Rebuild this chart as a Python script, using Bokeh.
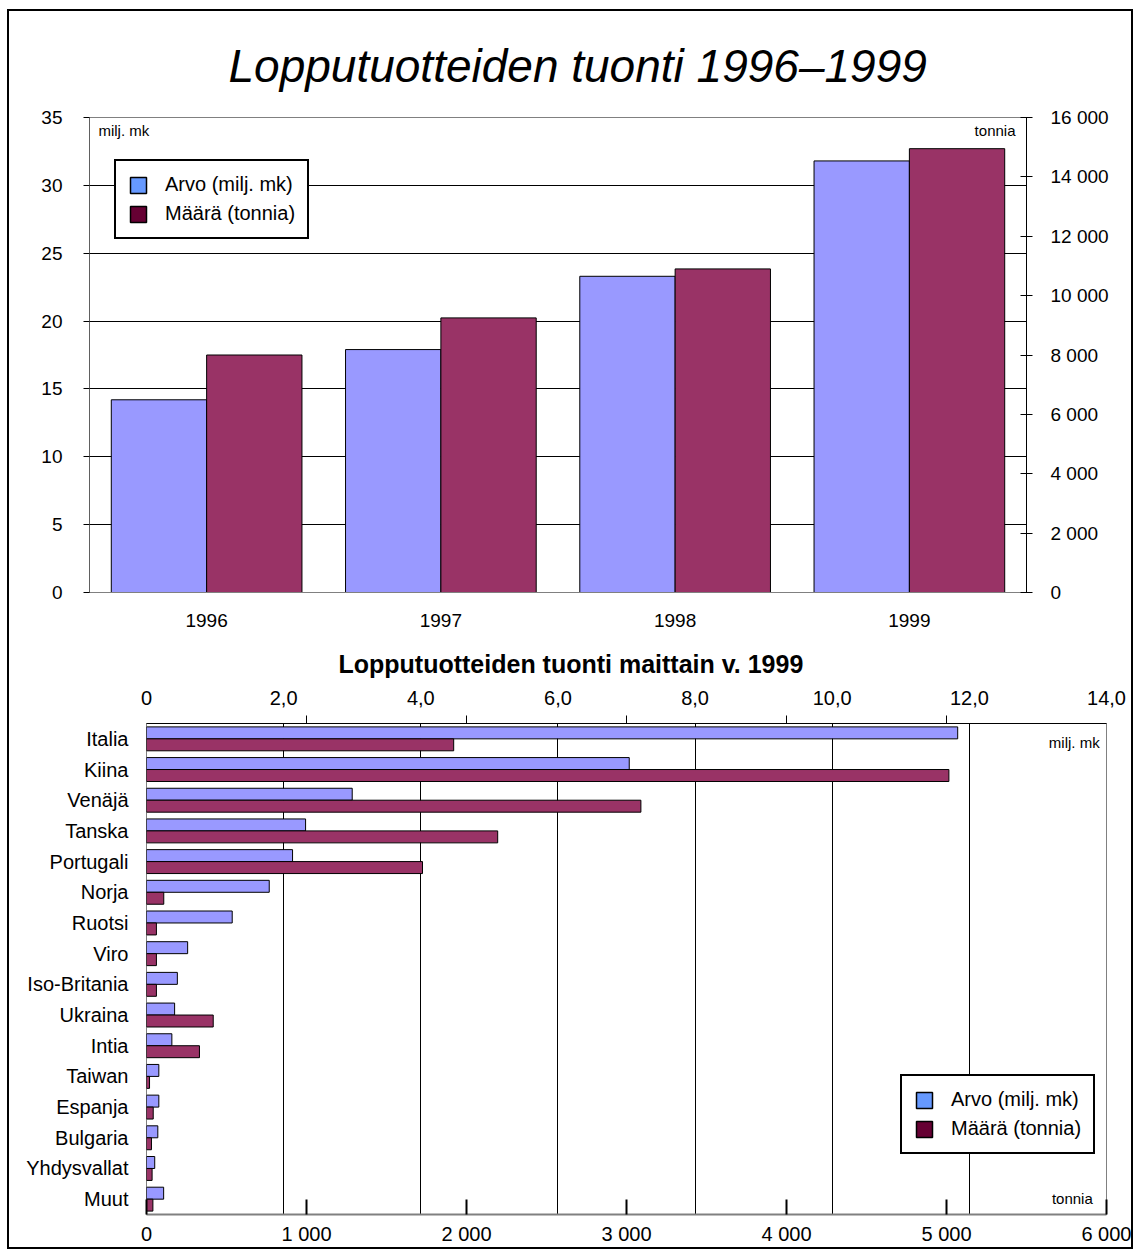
from bokeh.plotting import figure
from bokeh.models import (FactorRange, Range1d, LinearAxis, FixedTicker, Legend,
                          LegendItem, Label, ColumnDataSource)
from bokeh.transform import dodge
from bokeh.embed import file_html
from bokeh.resources import INLINE

# ---------------- data ----------------
YEARS = ["1996", "1997", "1998", "1999"]
ARVO_YEAR = [14.2, 17.9, 23.3, 31.8]            # milj. mk
MAARA_YEAR = [8000, 9250, 10900, 14950]         # tonnia

COUNTRIES = ["Italia", "Kiina", "Venäjä", "Tanska", "Portugali", "Norja", "Ruotsi",
             "Viro", "Iso-Britania", "Ukraina", "Intia", "Taiwan", "Espanja",
             "Bulgaria", "Yhdysvallat", "Muut"]
ARVO_1999 = [11.83, 7.04, 3.0, 2.32, 2.13, 1.79, 1.25, 0.60, 0.45, 0.41, 0.37,
             0.18, 0.18, 0.165, 0.12, 0.25]     # milj. mk
MAARA_1999 = [1920, 5015, 3090, 2195, 1725, 108, 62, 62, 62, 417, 331,
              19, 42, 31, 35, 40]               # tonnia

LEFT_TICKS = [0, 5, 10, 15, 20, 25, 30, 35]
RIGHT_TICKS = [0, 2000, 4000, 6000, 8000, 10000, 12000, 14000, 16000]
RIGHT_LABELS = ["0", "2 000", "4 000", "6 000", "8 000", "10 000", "12 000", "14 000", "16 000"]
MK_TICKS = [0, 2, 4, 6, 8, 10, 12, 14]
MK_LABELS = ["0", "2,0", "4,0", "6,0", "8,0", "10,0", "12,0", "14,0"]
T_TICKS = [0, 1000, 2000, 3000, 4000, 5000, 6000]
T_LABELS = ["0", "1 000", "2 000", "3 000", "4 000", "5 000", "6 000"]

TITLE1 = "Lopputuotteiden tuonti 1996–1999"
TITLE2 = "Lopputuotteiden tuonti maittain v. 1999"
LEG_ARVO = "Arvo (milj. mk)"
LEG_MAARA = "Määrä (tonnia)"

ARVO_COLOR = "#9999FF"
MAARA_COLOR = "#993366"
LEG_ARVO_COLOR = "#6699FF"
LEG_MAARA_COLOR = "#660033"
FONT = "Liberation Sans"
BORDER = "2px solid black"


def style_legend(leg):
    leg.border_line_color = "black"
    leg.border_line_alpha = 1
    leg.border_line_width = 2
    leg.background_fill_color = "white"
    leg.background_fill_alpha = 1
    leg.label_text_font = FONT
    leg.label_text_font_size = "20px"
    leg.label_text_color = "black"
    leg.glyph_width = 20
    leg.glyph_height = 20
    leg.label_height = 20
    leg.label_standoff = 17
    leg.spacing = 6
    leg.padding = 12
    leg.margin = 0


def style_axis_text(ax, size):
    ax.major_label_text_font = FONT
    ax.major_label_text_font_size = size
    ax.major_label_text_color = "black"


# ---------------- top chart ----------------
p1 = figure(x_range=FactorRange(*YEARS), y_range=Range1d(0, 35), width=1126, height=628,
            output_backend="svg", toolbar_location=None,
            min_border_left=80, min_border_right=109, min_border_top=105, min_border_bottom=47)
p1.extra_y_ranges = {"t": Range1d(0, 16000)}
p1.background_fill_color = "white"
p1.border_fill_color = "white"
p1.outline_line_color = "#808080"
p1.styles = {"margin-left": "7px", "margin-top": "9px",
             "border-top": BORDER, "border-left": BORDER, "border-right": BORDER}

src1 = ColumnDataSource(dict(year=YEARS, arvo=ARVO_YEAR, maara=MAARA_YEAR))
p1.vbar(x=dodge("year", -0.2035, range=p1.x_range), top="arvo", width=0.407, source=src1,
        fill_color=ARVO_COLOR, line_color="black", line_width=1)
p1.vbar(x=dodge("year", 0.2035, range=p1.x_range), top="maara", width=0.407, source=src1,
        y_range_name="t", fill_color=MAARA_COLOR, line_color="black", line_width=1)

p1.title.text = TITLE1
p1.title.align = "left"
p1.title.offset = 139
p1.title.text_font = FONT
p1.title.text_font_size = "46px"
p1.title.text_font_style = "italic"
p1.title.text_color = "black"
p1.title.standoff = 52

p1.xgrid.visible = False
p1.ygrid.grid_line_color = "black"
p1.ygrid.grid_line_width = 1

ya = p1.yaxis[0]
ya.ticker = FixedTicker(ticks=LEFT_TICKS)
ya.axis_line_color = "#606060"
ya.major_tick_in = 0
ya.major_tick_out = 6
ya.minor_tick_line_color = None
ya.major_label_standoff = 21
style_axis_text(ya, "19px")

xa = p1.xaxis[0]
xa.axis_line_color = "#808080"
xa.major_tick_line_color = None
xa.major_label_standoff = 15
style_axis_text(xa, "19px")

ra = LinearAxis(y_range_name="t", ticker=FixedTicker(ticks=RIGHT_TICKS),
                major_label_overrides=dict(zip(RIGHT_TICKS, RIGHT_LABELS)))
ra.axis_line_color = "black"
ra.major_tick_in = 6
ra.major_tick_out = 6
ra.minor_tick_line_color = None
ra.major_label_standoff = 18
style_axis_text(ra, "19px")
p1.add_layout(ra, "right")

p1.add_layout(Label(x=0.038, y=34.04, text="milj. mk", text_align="left", text_baseline="middle",
                    text_font=FONT, text_font_size="15px", text_color="black"))
p1.add_layout(Label(x=3.953, y=34.04, text="tonnia", text_align="right", text_baseline="middle",
                    text_font=FONT, text_font_size="15px", text_color="black"))

# legend swatches (zero-size proxies carrying the legend colours)
la1 = p1.vbar(x=YEARS[:1], top=[0], width=0, fill_color=LEG_ARVO_COLOR, line_color="black", line_width=1.5)
lm1 = p1.vbar(x=YEARS[:1], top=[0], width=0, fill_color=LEG_MAARA_COLOR, line_color="black", line_width=1.5)
leg1 = Legend(items=[LegendItem(label=LEG_ARVO, renderers=[la1]),
                     LegendItem(label=LEG_MAARA, renderers=[lm1])], location=(25, 353))
style_legend(leg1)
p1.add_layout(leg1)

# ---------------- bottom chart ----------------
p2 = figure(x_range=Range1d(0, 14), y_range=FactorRange(*COUNTRIES[::-1]), x_axis_location="above",
            width=1126, height=612, output_backend="svg", toolbar_location=None,
            min_border_left=137, min_border_right=29, min_border_top=83, min_border_bottom=35)
p2.extra_x_ranges = {"t": Range1d(0, 6000)}
p2.background_fill_color = "white"
p2.border_fill_color = "white"
p2.outline_line_color = "#808080"
p2.styles = {"margin-left": "7px",
             "border-bottom": BORDER, "border-left": BORDER, "border-right": BORDER}

src2 = ColumnDataSource(dict(country=COUNTRIES, arvo=ARVO_1999, maara=MAARA_1999))
p2.hbar(y=dodge("country", 0.195, range=p2.y_range), right="arvo", left=0, height=0.39, source=src2,
        fill_color=ARVO_COLOR, line_color="black", line_width=1)
p2.hbar(y=dodge("country", -0.195, range=p2.y_range), right="maara", left=0, height=0.39, source=src2,
        x_range_name="t", fill_color=MAARA_COLOR, line_color="black", line_width=1)

p2.title.text = TITLE2
p2.title.align = "left"
p2.title.offset = 192
p2.title.text_font = FONT
p2.title.text_font_size = "25px"
p2.title.text_font_style = "bold"
p2.title.text_color = "black"
p2.title.standoff = 20

p2.ygrid.visible = False
p2.xgrid.grid_line_color = "black"
p2.xgrid.grid_line_width = 1

ta = p2.xaxis[0]
ta.ticker = FixedTicker(ticks=MK_TICKS, minor_ticks=[t * 14 / 6000 for t in T_TICKS[1:-1]])
ta.major_label_overrides = dict(zip(MK_TICKS, MK_LABELS))
ta.axis_line_color = "black"
ta.major_tick_in = 0
ta.major_tick_out = 0
ta.minor_tick_in = 0
ta.minor_tick_out = 8
ta.minor_tick_line_color = "black"
ta.major_label_standoff = 11
style_axis_text(ta, "20px")

ba = LinearAxis(x_range_name="t", ticker=FixedTicker(ticks=T_TICKS),
                major_label_overrides=dict(zip(T_TICKS, T_LABELS)))
ba.axis_line_color = "#808080"
ba.axis_line_width = 2
ba.major_tick_in = 15
ba.major_tick_out = 0
ba.major_tick_line_width = 2
ba.minor_tick_line_color = None
ba.major_label_standoff = 8
style_axis_text(ba, "20px")
p2.add_layout(ba, "below")

ca = p2.yaxis[0]
ca.axis_line_color = None
ca.major_tick_line_color = None
ca.minor_tick_line_color = None
ca.major_label_standoff = 12
style_axis_text(ca, "20px")

p2.add_layout(Label(x=13.9, y=15.38, text="milj. mk", text_align="right", text_baseline="middle",
                    text_font=FONT, text_font_size="15px", text_color="black"))
p2.add_layout(Label(x=13.8, y=0.52, text="tonnia", text_align="right", text_baseline="middle",
                    text_font=FONT, text_font_size="15px", text_color="black"))

la2 = p2.hbar(y=COUNTRIES[-1:], right=[0], height=0, fill_color=LEG_ARVO_COLOR, line_color="black", line_width=1.5)
lm2 = p2.hbar(y=COUNTRIES[-1:], right=[0], height=0, fill_color=LEG_MAARA_COLOR, line_color="black", line_width=1.5)
leg2 = Legend(items=[LegendItem(label=LEG_ARVO, renderers=[la2]),
                     LegendItem(label=LEG_MAARA, renderers=[lm2])], location=(754, 60))
style_legend(leg2)
p2.add_layout(leg2)

with open("out.html", "w") as f:
    f.write(file_html([p1, p2], INLINE, title=TITLE1))
